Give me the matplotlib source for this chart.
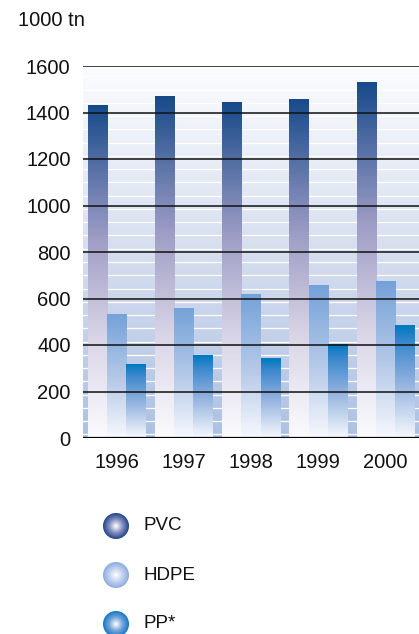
import numpy as np
import matplotlib
matplotlib.use('Agg')
import matplotlib.pyplot as plt
from matplotlib.colors import LinearSegmentedColormap, to_rgb
from matplotlib.patches import Circle

plt.rcParams['font.family'] = ['Liberation Sans', 'DejaVu Sans']

years = ['1996', '1997', '1998', '1999', '2000']
series = ['PVC', 'HDPE', 'PP*']
pvc = [1430, 1470, 1445, 1458, 1530]
hdpe = [533, 555, 618, 655, 672]
pp = [318, 356, 340, 402, 483]
values = [pvc, hdpe, pp]

# gradient colour ramps (bottom -> top)
bar_cmaps = [
    LinearSegmentedColormap.from_list('pvc', [(0, '#fbfbfd'), (0.3, '#d9d5e7'), (0.6, '#9e9dc5'), (1, '#184a8a')]),
    LinearSegmentedColormap.from_list('hdpe', [(0, '#f7f9fd'), (0.45, '#b8cbe9'), (1, '#74a2d8')]),
    LinearSegmentedColormap.from_list('pp', [(0, '#f7f9fd'), (0.5, '#8fb0de'), (0.85, '#3a88cc'), (1, '#0078c0')]),
]
legend_edge = ['#27478a', '#8eaee0', '#1878c6']
legend_mid = ['#8a94c4', '#c4d4f0', '#7aa8dc']

fig = plt.figure(figsize=(4.19, 6.34), dpi=100)

# legend drawn in pixel coordinates
lax = fig.add_axes([0, 0, 1, 1])
lax.set_xlim(0, 419)
lax.set_ylim(634, 0)
lax.axis('off')
for i, name in enumerate(series):
    cy = 526 + i * 49
    steps = 24
    for k in range(steps):
        t = k / (steps - 1)
        r = 12.5 * (1 - t) + 0.5
        c0 = np.array(to_rgb(legend_edge[i]))
        c1 = np.array(to_rgb(legend_mid[i]))
        c2 = np.array([1, 1, 1])
        if t < 0.5:
            col = c0 + (c1 - c0) * (t / 0.5)
        else:
            col = c1 + (c2 - c1) * ((t - 0.5) / 0.5)
        lax.add_patch(Circle((116, cy), r, color=col, lw=0))
    lax.text(143, cy, name, fontsize=13.5, va='center', ha='left', color='#111111')

ax = fig.add_axes([83 / 419, 196 / 634, 336 / 419, 372 / 634])
ymax = 1600
xlo, xhi = -0.5, 4.5

# background gradient
bg = LinearSegmentedColormap.from_list('bg', [(0, '#adc1e3'), (0.5, '#d6deef'), (1, '#fbfcfe')])
grad = np.linspace(0, 1, 256).reshape(-1, 1)
ax.imshow(grad, extent=[xlo, xhi, 0, ymax], origin='lower', aspect='auto', cmap=bg, zorder=0)
for yw in np.arange(16, ymax, 57):
    ax.axhline(yw, color='white', lw=0.9, zorder=0.5)

x = np.arange(len(years))
w = 0.285
offsets = [-w, 0, w]
for i, vals in enumerate(values):
    bars = ax.bar(x + offsets[i], vals, width=w, color='none', lw=0, zorder=1)
    for b in bars:
        x0 = b.get_x()
        h = b.get_height()
        g = np.linspace(0, 1, 256).reshape(-1, 1)
        ax.imshow(g, extent=[x0, x0 + b.get_width(), 0, h], origin='lower',
                  aspect='auto', cmap=bar_cmaps[i], zorder=1)

for yg in range(200, ymax + 1, 200):
    ax.axhline(yg, color='#111111', lw=1.3, alpha=0.85, zorder=3)
ax.axhline(0, color='black', lw=1.6, zorder=3)

ax.set_xlim(xlo, xhi)
ax.set_ylim(0, ymax)
ax.set_yticks(range(0, ymax + 1, 200))
ax.set_yticklabels([str(v) for v in range(0, ymax + 1, 200)], fontsize=14.5)
ax.set_xticks(x)
ax.set_xticklabels(years, fontsize=14.5)
ax.tick_params(axis='both', length=0, labelcolor='#111111')
ax.tick_params(axis='y', pad=9)
ax.tick_params(axis='x', pad=11)
for s in ax.spines.values():
    s.set_visible(False)

fig.text(18 / 419, 1 - 21 / 634, '1000 tn', fontsize=14.5, va='center', ha='left', color='#111111')

fig.savefig('out.png', dpi=100)
